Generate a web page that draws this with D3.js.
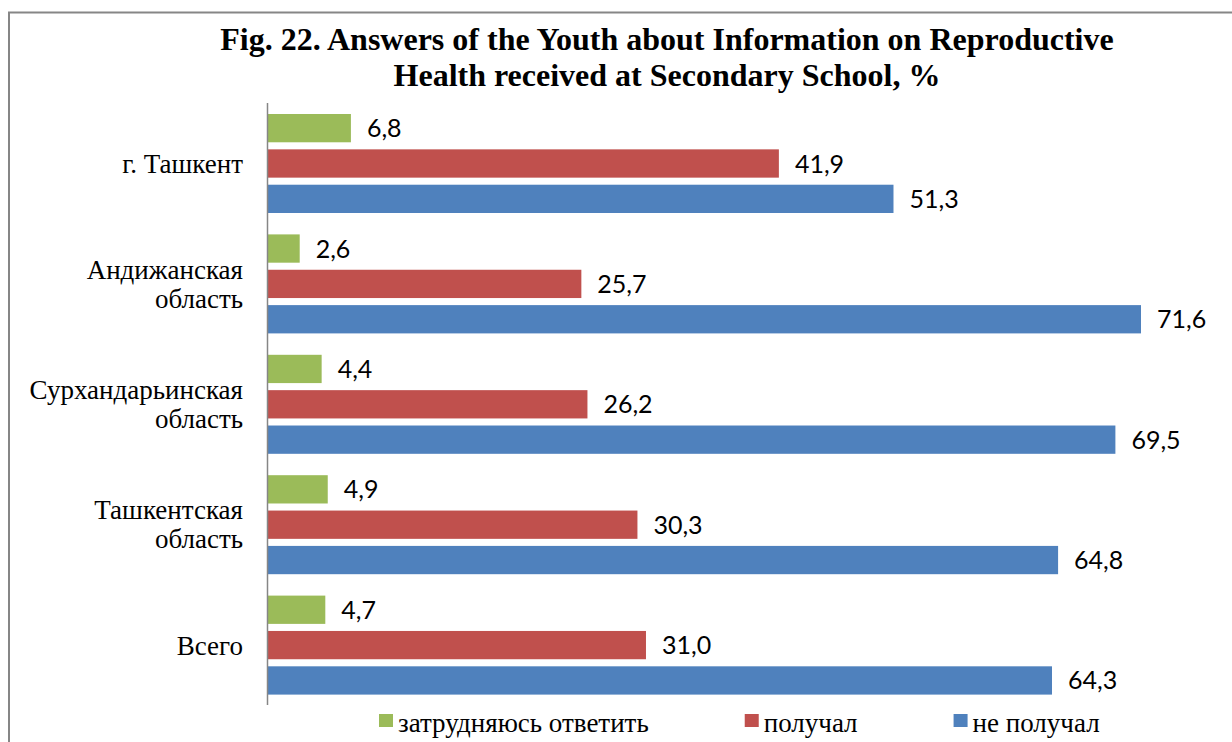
<!DOCTYPE html>
<html>
<head>
<meta charset="utf-8">
<script src="https://cdn.jsdelivr.net/npm/d3@7"></script>
<style>
  html, body { margin: 0; padding: 0; background: #fff; }
  #chart { width: 1232px; height: 742px; overflow: hidden; }
</style>
</head>
<body>
<div id="chart"></div>
<script>
const categories = [
    ["г. Ташкент"],
    ["Андижанская", "область"],
    ["Сурхандарьинская", "область"],
    ["Ташкентская", "область"],
    ["Всего"]
];
const seriesNames = ["затрудняюсь ответить", "получал", "не получал"];
const seriesColors = ["#9bbb59", "#c0504d", "#4f81bd"];
const hardToSay = [6.8, 2.6, 4.4, 4.9, 4.7];
const received = [41.9, 25.7, 26.2, 30.3, 31.0];
const notReceived = [51.3, 71.6, 69.5, 64.8, 64.3];
const titleLines = [
    "Fig. 22. Answers of the Youth about Information on Reproductive",
    "Health received at Secondary School, %"
];

const width = 1232, height = 742;
const serif = "'Liberation Serif', 'Times New Roman', serif";
const sans = "Lato, 'Open Sans', sans-serif";

const svg = d3.select("#chart")
    .append("svg")
    .attr("width", width)
    .attr("height", height);

// outer frame (right and bottom edge fall outside the picture)
svg.append("rect")
    .attr("x", 9)
    .attr("y", 12.5)
    .attr("width", 1240)
    .attr("height", 760)
    .attr("fill", "none")
    .attr("stroke", "#868686")
    .attr("stroke-width", 2);

svg.append("text")
    .attr("text-anchor", "middle")
    .style("font-family", serif)
    .style("font-weight", "bold")
    .style("font-size", "32px")
    .selectAll("tspan")
    .data(titleLines)
    .join("tspan")
    .attr("x", 667)
    .attr("y", (d, i) => 50 + i * 36)
    .text(d => d);

const x0 = 268;
const x = d3.scaleLinear()
    .domain([0, 71.6])
    .range([x0, 1141]);

const y = d3.scaleBand()
    .domain(d3.range(categories.length))
    .range([103, 705]);

const ySub = d3.scaleBand()
    .domain(d3.range(seriesNames.length))
    .range([11, 110])
    .paddingInner(0.2);

const rows = categories.map((c, i) => ({
    label: c,
    values: [hardToSay[i], received[i], notReceived[i]]
}));

const groups = svg.selectAll("g.cat")
    .data(rows)
    .join("g")
    .attr("class", "cat")
    .attr("transform", (d, i) => `translate(0,${y(i)})`);

groups.selectAll("rect")
    .data(d => d.values)
    .join("rect")
    .attr("x", x0)
    .attr("y", (d, j) => ySub(j))
    .attr("width", d => x(d) - x0)
    .attr("height", ySub.bandwidth())
    .attr("fill", (d, j) => seriesColors[j]);

groups.selectAll("text.val")
    .data(d => d.values)
    .join("text")
    .attr("class", "val")
    .attr("x", d => x(d) + 16)
    .attr("y", (d, j) => ySub(j) + ySub.bandwidth() / 2 + 9)
    .style("font-family", sans)
    .style("font-size", "25px")
    .style("fill", "#000")
    .text(d => d.toFixed(1).replace(".", ","));

groups.append("text")
    .attr("text-anchor", "end")
    .style("font-family", serif)
    .style("font-size", "27px")
    .selectAll("tspan")
    .data(d => d.label)
    .join("tspan")
    .attr("x", 243)
    .attr("y", (d, i, nodes) => y.bandwidth() / 2 + (nodes.length === 1 ? 10 : -5 + i * 29))
    .text(d => d);

// category axis line
svg.append("line")
    .attr("x1", x0 - 0.5)
    .attr("x2", x0 - 0.5)
    .attr("y1", 103)
    .attr("y2", 705)
    .attr("stroke", "#868686")
    .attr("stroke-width", 1.5);

// legend
const legend = svg.append("g").attr("class", "legend");
let lx = 379;
seriesNames.forEach((name, i) => {
    legend.append("rect")
        .attr("x", lx)
        .attr("y", 714)
        .attr("width", 14)
        .attr("height", 13)
        .attr("fill", seriesColors[i]);
    const t = legend.append("text")
        .attr("x", lx + 19)
        .attr("y", 732)
        .style("font-family", serif)
        .style("font-size", "27px")
        .text(name);
    lx += 19 + t.node().getComputedTextLength() + 96;
});
</script>
</body>
</html>
